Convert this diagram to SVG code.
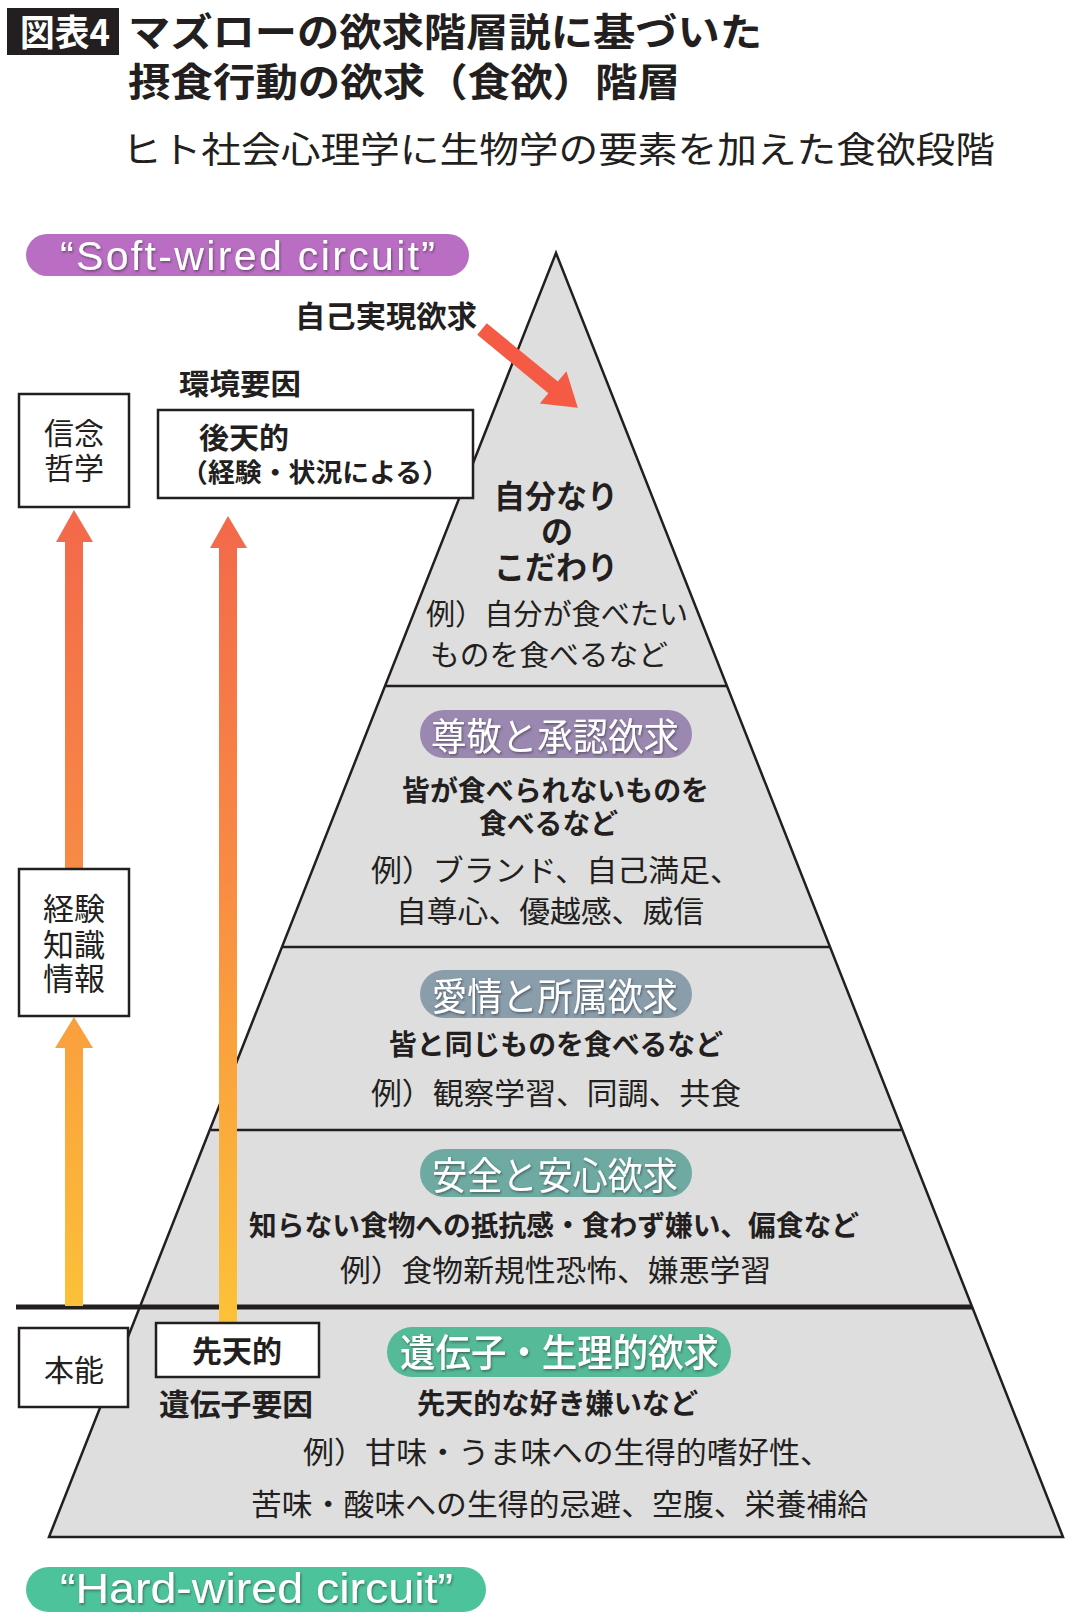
<svg xmlns="http://www.w3.org/2000/svg" width="1080" height="1622" viewBox="0 0 1080 1622">
<defs>
<style>
.jp{font-family:"Noto Sans CJK JP","Noto Sans",sans-serif;fill:#231f20}
.b{font-weight:700}
.w{fill:#ffffff}
.en{font-family:"Liberation Sans",Arial,sans-serif;fill:#ffffff}
.box{fill:#ffffff;stroke:#231f20;stroke-width:2.5}
.tier{fill:none;stroke:#231f20;stroke-width:2.5}
.sh{filter:url(#shadow)}
</style>
<linearGradient id="arrowGrad" gradientUnits="userSpaceOnUse" x1="0" y1="510" x2="0" y2="1320">
<stop offset="0" stop-color="#f3684b"/>
<stop offset="0.45" stop-color="#f88b44"/>
<stop offset="0.65" stop-color="#faa13d"/>
<stop offset="1" stop-color="#fcc238"/>
</linearGradient>
<filter id="shadow" x="-10%" y="-30%" width="120%" height="160%">
<feDropShadow dx="1" dy="1.5" stdDeviation="0.8" flood-color="#2a2a2a" flood-opacity="0.55"/>
</filter>
</defs>
<rect width="1080" height="1622" fill="#ffffff"/>

<g id="title">
<rect x="7" y="8" width="112" height="47" fill="#231f20"/>
<text class="jp b w" x="20" y="46" font-size="36" textLength="90" lengthAdjust="spacingAndGlyphs">図表4</text>
<text class="jp b" x="128" y="46" font-size="39" textLength="634" lengthAdjust="spacingAndGlyphs">マズローの欲求階層説に基づいた</text>
<text class="jp b" x="128" y="96" font-size="39" textLength="552" lengthAdjust="spacingAndGlyphs">摂食行動の欲求（食欲）階層</text>
<text class="jp" x="122" y="163" font-size="36" textLength="873" lengthAdjust="spacingAndGlyphs">ヒト社会心理学に生物学の要素を加えた食欲段階</text>
</g>

<g id="soft-wired">
<rect x="26" y="234" width="443" height="42" rx="21" fill="#b96ec3"/>
<text class="en sh" x="60" y="270" font-size="41" textLength="375" lengthAdjust="spacing">“Soft-wired circuit”</text>
</g>

<g id="pyramid">
<polygon points="556,253 1063,1537 49,1537" fill="#dedede" stroke="#231f20" stroke-width="2.5" stroke-linejoin="miter"/>
<line class="tier" x1="385" y1="686" x2="727" y2="686"/>
<line class="tier" x1="282" y1="947" x2="830" y2="947"/>
<line class="tier" x1="211" y1="1130" x2="901" y2="1130"/>
</g>

<line id="instinct-line" x1="16" y1="1307" x2="972" y2="1307" stroke="#231f20" stroke-width="5"/>

<g id="connectors">
<polygon fill="url(#arrowGrad)" points="74,510 93,542 83,542 83,870 65,870 65,542 56,542"/>
<polygon fill="url(#arrowGrad)" points="74,1017 93,1048 83,1048 83,1306 65,1306 65,1048 55,1048"/>
<polygon fill="url(#arrowGrad)" points="228,516 247,548 237,548 237,1323 219,1323 219,548 210,548"/>
<g transform="translate(482,329) rotate(39.4)">
<polygon fill="#f55a45" points="0,-7.5 92,-7.5 92,-21 124,0 92,21 92,7.5 0,7.5"/>
</g>
</g>

<g id="self-actualization">
<text class="jp b" x="295" y="327" font-size="30" textLength="182" lengthAdjust="spacingAndGlyphs">自己実現欲求</text>
<text class="jp b" font-size="32" text-anchor="middle"><tspan x="556" y="508" textLength="124" lengthAdjust="spacingAndGlyphs">自分なり</tspan><tspan x="557" y="543">の</tspan><tspan x="556" y="579" textLength="124" lengthAdjust="spacingAndGlyphs">こだわり</tspan></text>
<text class="jp" x="426" y="625" font-size="29" textLength="262" lengthAdjust="spacingAndGlyphs">例）自分が食べたい</text>
<text class="jp" x="430" y="666" font-size="29" textLength="238" lengthAdjust="spacingAndGlyphs">ものを食べるなど</text>
</g>

<g id="esteem">
<rect x="420" y="710" width="272" height="48" rx="24" fill="#9a88b0"/>
<text class="jp w sh" x="555" y="750" font-size="38" text-anchor="middle" textLength="248" lengthAdjust="spacingAndGlyphs">尊敬と承認欲求</text>
<text class="jp b" x="402" y="801" font-size="28" textLength="307" lengthAdjust="spacingAndGlyphs">皆が食べられないものを</text>
<text class="jp b" x="479" y="834" font-size="28" textLength="139" lengthAdjust="spacingAndGlyphs">食べるなど</text>
<text class="jp" x="371" y="881" font-size="30" textLength="370" lengthAdjust="spacingAndGlyphs">例）ブランド、自己満足、</text>
<text class="jp" x="396" y="922" font-size="30" textLength="308" lengthAdjust="spacingAndGlyphs">自尊心、優越感、威信</text>
</g>

<g id="belonging">
<rect x="420" y="970" width="272" height="48" rx="24" fill="#8a9dab"/>
<text class="jp w sh" x="555" y="1010" font-size="38" text-anchor="middle" textLength="246" lengthAdjust="spacingAndGlyphs">愛情と所属欲求</text>
<text class="jp b" x="389" y="1055" font-size="28" textLength="334" lengthAdjust="spacingAndGlyphs">皆と同じものを食べるなど</text>
<text class="jp" x="371" y="1104" font-size="30" textLength="370" lengthAdjust="spacingAndGlyphs">例）観察学習、同調、共食</text>
</g>

<g id="safety">
<rect x="420" y="1149" width="272" height="48" rx="24" fill="#6eaaa2"/>
<text class="jp w sh" x="555" y="1189" font-size="38" text-anchor="middle" textLength="246" lengthAdjust="spacingAndGlyphs">安全と安心欲求</text>
<text class="jp b" x="249" y="1236" font-size="28" textLength="610" lengthAdjust="spacingAndGlyphs">知らない食物への抵抗感・食わず嫌い、偏食など</text>
<text class="jp" x="340" y="1281" font-size="30" textLength="431" lengthAdjust="spacingAndGlyphs">例）食物新規性恐怖、嫌悪学習</text>
</g>

<g id="physiological">
<rect x="387" y="1327" width="344" height="50" rx="25" fill="#54ba98"/>
<text class="jp w sh" x="400" y="1366" font-size="38" font-weight="500" textLength="319" lengthAdjust="spacingAndGlyphs">遺伝子・生理的欲求</text>
<text class="jp b" x="417" y="1414" font-size="28" textLength="281" lengthAdjust="spacingAndGlyphs">先天的な好き嫌いなど</text>
<text class="jp" x="303" y="1463" font-size="30" textLength="528" lengthAdjust="spacingAndGlyphs">例）甘味・うま味への生得的嗜好性、</text>
<text class="jp" x="251" y="1515" font-size="30" textLength="617" lengthAdjust="spacingAndGlyphs">苦味・酸味への生得的忌避、空腹、栄養補給</text>
</g>

<g id="belief-box">
<rect class="box" x="19" y="394" width="110" height="113"/>
<text class="jp" font-size="30" text-anchor="middle"><tspan x="74" y="444">信念</tspan><tspan x="74" y="479">哲学</tspan></text>
</g>

<g id="acquired-box">
<text class="jp b" x="179" y="395" font-size="29" textLength="122" lengthAdjust="spacingAndGlyphs">環境要因</text>
<rect class="box" x="158" y="410" width="315" height="88"/>
<text class="jp b" x="199" y="449" font-size="29" textLength="90" lengthAdjust="spacingAndGlyphs">後天的</text>
<text class="jp b" x="181" y="482" font-size="26" textLength="268" lengthAdjust="spacingAndGlyphs">（経験・状況による）</text>
</g>

<g id="experience-box">
<rect class="box" x="19" y="869" width="110" height="147"/>
<text class="jp" font-size="31" text-anchor="middle"><tspan x="74" y="920">経験</tspan><tspan x="74" y="956">知識</tspan><tspan x="74" y="990">情報</tspan></text>
</g>

<g id="instinct-box">
<rect class="box" x="19" y="1328" width="109" height="79"/>
<text class="jp" x="74" y="1381" font-size="30" text-anchor="middle">本能</text>
</g>

<g id="innate-box">
<rect class="box" x="156" y="1323" width="163" height="54"/>
<text class="jp b" x="237" y="1362" font-size="30" text-anchor="middle" textLength="90" lengthAdjust="spacingAndGlyphs">先天的</text>
<text class="jp b" x="236" y="1415" font-size="30" text-anchor="middle" textLength="154" lengthAdjust="spacingAndGlyphs">遺伝子要因</text>
</g>

<g id="hard-wired">
<rect x="26" y="1567" width="460" height="45" rx="22.5" fill="#4cc39a"/>
<text class="en sh" x="60" y="1603" font-size="42" textLength="393" lengthAdjust="spacingAndGlyphs">“Hard-wired circuit”</text>
</g>
</svg>
